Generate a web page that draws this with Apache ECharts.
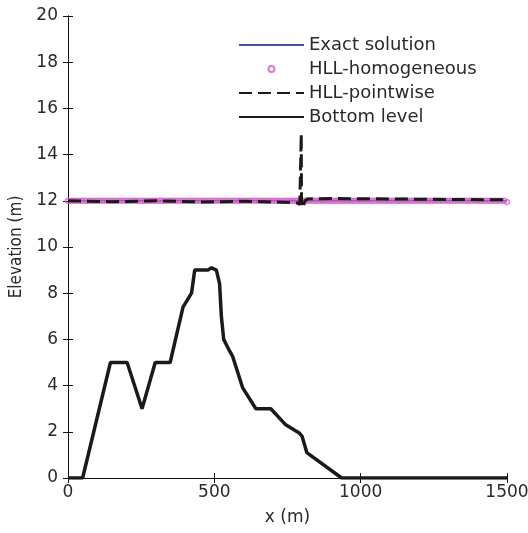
<!DOCTYPE html>
<html>
<head>
<meta charset="utf-8">
<script src="https://cdn.jsdelivr.net/npm/echarts@6/dist/echarts.min.js"></script>
<style>html,body{margin:0;padding:0;background:#fff}#c{width:528px;height:533px}</style>
</head>
<body>
<div id="c"></div>
<script>
// Bottom level profile (x in m, elevation in m)
var bottomX = [0, 50, 145, 202, 253, 298, 349, 393, 422, 433, 478, 490, 507, 518, 524, 532, 552, 563, 597, 642, 693, 744, 790, 800, 816, 935, 1500];
var bottomY = [0, 0, 5, 5, 3, 5, 5, 7.4, 8, 9, 9, 9.1, 9, 8.4, 7, 6, 5.5, 5.25, 3.9, 3, 3, 2.3, 1.95, 1.8, 1.1, 0, 0];

// Exact solution (flat water surface)
var exactX = [0, 1500];
var exactY = [12, 12];

// HLL-homogeneous markers
var homX = [0,10,20,30,40,50,60,70,80,90,100,110,120,130,140,150,160,170,180,190,200,210,220,230,240,250,260,270,280,290,300,310,320,330,340,350,360,370,380,390,400,410,420,430,440,450,460,470,480,490,500,510,520,530,540,550,560,570,580,590,600,610,620,630,640,650,660,670,680,690,700,710,720,730,740,750,760,770,780,790,800,810,820,830,840,850,860,870,880,890,900,910,920,930,940,950,960,970,980,990,1000,1010,1020,1030,1040,1050,1060,1070,1080,1090,1100,1110,1120,1130,1140,1150,1160,1170,1180,1190,1200,1210,1220,1230,1240,1250,1260,1270,1280,1290,1300,1310,1320,1330,1340,1350,1360,1370,1380,1390,1400,1410,1420,1430,1440,1450,1460,1470,1480,1490,1500];
var homY = [12,12,12,12,12,12,12,12,12,12,12,12,12,12,12,12,12,12,12,12,12,12,12,12,12,12,12,12,12,12,12,12,12,12,12,12,12,12,12,12,12,12,12,12,12,12,12,12,12,12,12,12,12,12,12,12,12,12,12,12,12,12,12,12,12,12,12,12,12,12,12,12,12,12,12,12,12,12,12,12,12,12,12,12,12,12,12,12,12,12,12,12,12,12,12,12,12,12,12,12,12,12,12,12,12,12,12,12,12,12,12,12,12,12,12,12,12,12,12,12,12,12,12,12,12,12,12,12,12,12,12,12,12,12,12,12,12,12,12,12,12,12,12,12,12,12,12,12,12,12,11.95];

// HLL-pointwise water surface
var pwX = [0, 150, 300, 450, 600, 700, 780, 792, 797, 798, 800, 805, 810, 818, 900, 1100, 1300, 1500];
var pwY = [12.0, 11.96, 12.0, 11.95, 11.98, 11.95, 11.92, 11.85, 14.9, 11.7, 11.75, 11.8, 12.0, 12.08, 12.1, 12.08, 12.06, 12.04];

// Axis ticks
var xMin = 0, xMax = 1500, xStep = 500;
var yMin = 0, yMax = 20, yStep = 2;

function zip(a, b) { return a.map(function (v, i) { return [v, b[i]]; }); }

var FONT = 'DejaVu Sans';
var TXT = '#2a2a2a';

var chart = echarts.init(document.getElementById('c'), null, {renderer: 'canvas'});
chart.setOption({
  animation: false,
  backgroundColor: '#fff',
  grid: {left: 68, right: 21, top: 16, bottom: 55, containLabel: false, outerBoundsMode: 'none'},
  legend: {
    orient: 'vertical',
    left: 233,
    top: 31,
    itemWidth: 65,
    itemHeight: 6,
    itemGap: 6,
    textStyle: {fontFamily: FONT, fontSize: 18, color: TXT},
    data: [
      {name: 'Exact solution', itemStyle: {opacity: 0}},
      {name: 'HLL-homogeneous'},
      {name: 'HLL-pointwise', itemStyle: {opacity: 0}},
      {name: 'Bottom level', itemStyle: {opacity: 0}}
    ]
  },
  xAxis: [{
    type: 'value', min: xMin, max: xMax, interval: xStep,
    name: 'x (m)', nameLocation: 'middle', nameGap: 31,
    nameTextStyle: {fontFamily: FONT, fontSize: 17, color: TXT},
    axisLine: {show: true, lineStyle: {color: '#111', width: 1}},
    axisTick: {show: true, inside: true, length: 5, lineStyle: {color: '#111'}},
    axisLabel: {fontFamily: FONT, fontSize: 17, color: TXT, margin: 6, formatter: function (v) { return String(v); }},
    splitLine: {show: false}
  }, {
    type: 'value', position: 'top', min: xMin, max: xMax, interval: xStep,
    axisLine: {show: true, lineStyle: {color: '#111', width: 1}},
    axisTick: {show: true, inside: true, length: 5, lineStyle: {color: '#111'}},
    axisLabel: {show: false}, splitLine: {show: false}
  }],
  yAxis: [{
    type: 'value', min: yMin, max: yMax, interval: yStep,
    name: 'Elevation (m)', nameLocation: 'middle', nameGap: 37,
    nameTextStyle: {fontFamily: 'DejaVu Sans Condensed', fontSize: 17, color: TXT},
    axisLine: {show: true, lineStyle: {color: '#111', width: 1}},
    axisTick: {show: true, inside: true, length: 5, lineStyle: {color: '#111'}},
    axisLabel: {fontFamily: FONT, fontSize: 17, color: TXT, margin: 10},
    splitLine: {show: false}
  }, {
    type: 'value', position: 'right', min: yMin, max: yMax, interval: yStep,
    axisLine: {show: true, lineStyle: {color: '#111', width: 1}},
    axisTick: {show: true, inside: true, length: 5, lineStyle: {color: '#111'}},
    axisLabel: {show: false}, splitLine: {show: false}
  }],
  series: [
    {
      name: 'Bottom level', type: 'line', data: zip(bottomX, bottomY),
      symbol: 'none', lineStyle: {color: '#1a1a1a', width: 3.5}, z: 2
    },
    {
      name: 'Exact solution', type: 'line', data: zip(exactX, exactY),
      symbol: 'none', lineStyle: {color: '#4a4aa8', width: 1.5}, z: 3
    },
    {
      name: 'HLL-homogeneous', type: 'scatter', data: zip(homX, homY),
      symbol: 'circle', symbolSize: 5,
      itemStyle: {color: 'rgba(255,255,255,0)', borderColor: '#d45ac6', borderWidth: 1.5}, z: 4
    },
    {
      name: 'HLL-pointwise', type: 'line', data: zip(pwX, pwY),
      symbol: 'none', lineStyle: {color: '#1a1a1a', width: 3, type: [13, 6]}, z: 5
    }
  ]
});
</script>
</body>
</html>
